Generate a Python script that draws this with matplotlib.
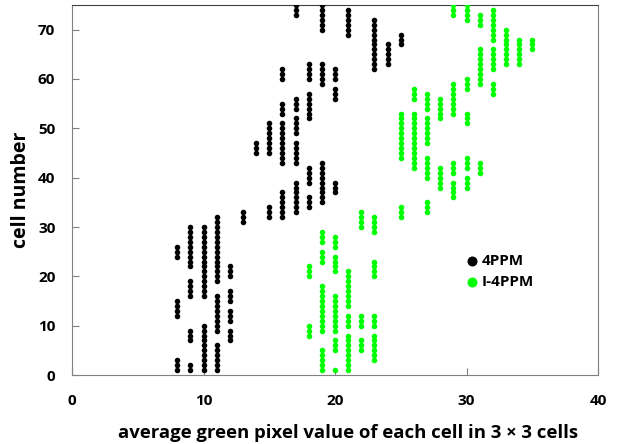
import numpy as np
import matplotlib.pyplot as plt

plt.rcParams['font.family'] = ['Open Sans', 'DejaVu Sans']
plt.rcParams['font.weight'] = 'bold'

# runs of cells sharing the same average green value: (value, first cell, last cell)
ppm_val = [8, 8, 8, 9, 9, 9, 9, 10, 10, 11, 11, 11, 12, 12, 12, 12, 13, 14,
           15, 15, 16, 16, 16, 16, 17, 17, 17, 17, 17, 18, 18, 18, 18,
           19, 19, 19, 20, 20, 20, 21, 23, 24, 25]
ppm_lo = [1, 12, 24, 1, 7, 16, 22, 1, 16, 1, 9, 19, 7, 11, 15, 20, 31, 45,
          32, 45, 32, 43, 53, 60, 33, 43, 49, 54, 73, 34, 39, 52, 60,
          35, 59, 70, 37, 56, 60, 69, 62, 63, 67]
ppm_hi = [3, 15, 26, 2, 9, 19, 30, 10, 30, 6, 16, 32, 9, 13, 17, 22, 33, 47,
          34, 51, 37, 51, 55, 62, 39, 47, 52, 56, 75, 36, 42, 57, 63,
          43, 63, 75, 39, 58, 62, 74, 72, 67, 69]

i_ppm_val = [18, 18, 19, 19, 19, 19, 20, 20, 20, 20, 20, 21, 21, 21,
             22, 22, 22, 23, 23, 23, 23, 25, 25, 26, 26, 27, 27, 27, 27,
             28, 28, 29, 29, 29, 29, 30, 30, 30, 30, 30, 31, 31, 31,
             32, 32, 32, 33, 34, 35]
i_ppm_lo = [8, 20, 1, 9, 23, 27, 1, 5, 9, 21, 26, 1, 10, 14,
            5, 10, 30, 3, 10, 20, 29, 32, 44, 42, 56, 33, 40, 47, 54,
            38, 52, 36, 41, 53, 73, 38, 42, 51, 58, 72, 41, 59, 71,
            57, 62, 68, 63, 63, 66]
i_ppm_hi = [10, 22, 5, 18, 25, 29, 1, 7, 16, 24, 28, 8, 12, 21,
            7, 12, 33, 8, 12, 23, 32, 34, 53, 53, 58, 35, 44, 52, 57,
            42, 56, 39, 43, 59, 75, 40, 44, 53, 60, 75, 43, 66, 73,
            59, 66, 74, 70, 68, 68]


def expand(vals, lo, hi):
    xs, ys = [], []
    for v, a, b in zip(vals, lo, hi):
        cells = np.arange(a, b + 1)
        xs.extend([v] * len(cells))
        ys.extend(cells)
    return np.array(xs), np.array(ys)


fig = plt.figure(figsize=(6.2, 4.44), dpi=100)
ax = fig.add_axes([72 / 620, 69 / 444, 526 / 620, 370 / 444])

x1, y1 = expand(ppm_val, ppm_lo, ppm_hi)
x2, y2 = expand(i_ppm_val, i_ppm_lo, i_ppm_hi)
ax.scatter(x1, y1, s=16, c='#000000', linewidths=0, label='4PPM', zorder=3)
ax.scatter(x2, y2, s=16, c='#00ff00', linewidths=0, label='I-4PPM', zorder=3)

ax.set_xlim(0, 40)
ax.set_ylim(0, 75)
ax.set_xticks([0, 10, 20, 30, 40])
ax.set_yticks(np.arange(0, 71, 10))
ax.tick_params(direction='in', length=5, color='#808080', labelsize=11)
ax.tick_params(axis='x', pad=14)
ax.tick_params(axis='y', pad=12)
for s in ['left', 'bottom', 'right']:
    ax.spines[s].set_color('#808080')
ax.spines['top'].set_color('#404040')

ax.set_xlabel('average green pixel value of each cell in 3 \u00d7 3 cells',
              fontsize=13.3, fontweight='bold', labelpad=8)
ax.xaxis.set_label_coords(0.525, -0.132)
ax.set_ylabel('cell number', fontsize=14, fontweight='bold', labelpad=5)

ax.legend(loc='upper left', bbox_to_anchor=(0.735, 0.343), frameon=False,
          markerscale=1.8, handletextpad=0.1, labelspacing=0.45,
          fontsize=11, borderaxespad=0, handlelength=1)

fig.savefig('out.png', dpi=100)
